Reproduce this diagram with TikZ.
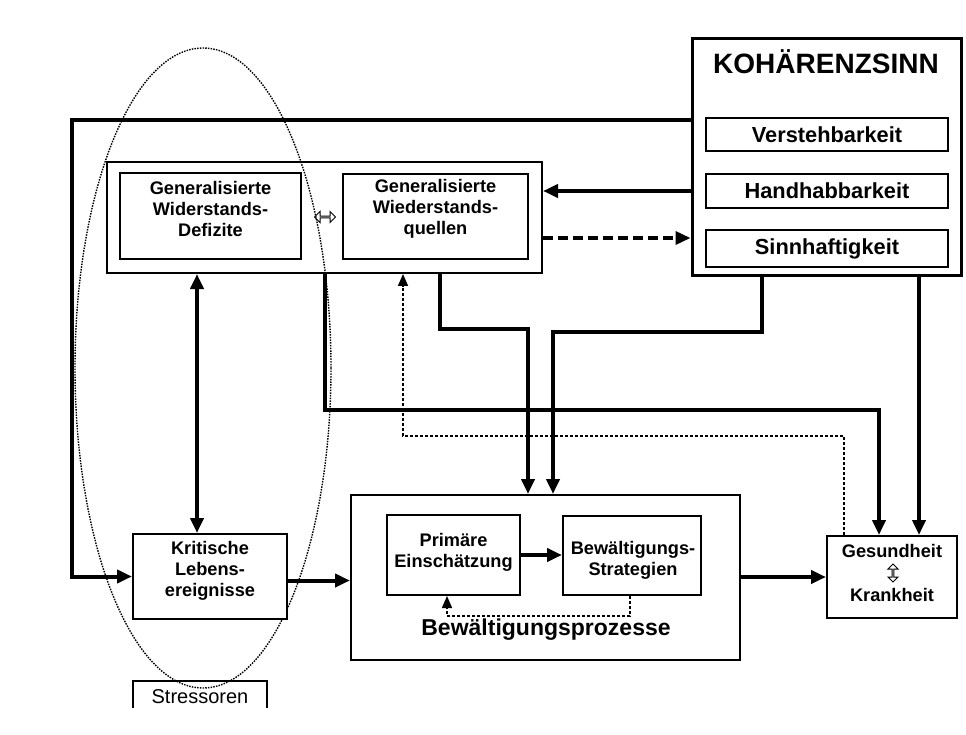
\documentclass[tikz,border=0pt]{standalone}
\usepackage{fontspec}
\setmainfont{Liberation Sans}
\usetikzlibrary{arrows.meta,shapes.arrows}
\begin{document}
\begin{tikzpicture}[x=1pt,y=-1pt,
  box/.style={draw, line width=2pt, rectangle, inner sep=0pt, fill=white},
  txt/.style={font=\bfseries\fontsize{18.2}{21}\selectfont, align=center, inner sep=0pt},
  subtxt/.style={font=\bfseries\fontsize{21.8}{24}\selectfont},
  arr/.style={line width=4pt, -{Triangle[length=15pt,width=13pt]}},
  arrtwo/.style={line width=4pt, {Triangle[length=15pt,width=13pt]}-{Triangle[length=15pt,width=13pt]}},
  dasharr/.style={line width=3.5pt, dash pattern=on 10pt off 5pt, -{Triangle[length=15pt,width=13pt]}},
  dotarr/.style={line width=1.6pt, dash pattern=on 3pt off 2pt, -{Triangle[length=12pt,width=10pt]}},
  hollow/.style={draw, double arrow, line width=1pt, minimum height=21pt, minimum width=11pt, double arrow head extend=2.5pt, inner sep=0pt}
]
\useasboundingbox (0,0) rectangle (966,735);

% Stressor ellipse
\draw[line width=1.4pt, dash pattern=on 1.5pt off 1.2pt] (203,368) ellipse [x radius=128, y radius=320];

% Koh\"arenzsinn
\node[box, line width=3pt, minimum width=269pt, minimum height=237pt] (koh) at (826.5,157.5) {};
\node[font=\bfseries\fontsize{28}{30}\selectfont, inner sep=0pt] (kohtitle) at (826,62) {KOHÄRENZSINN};
\node[box, minimum width=242pt, minimum height=33pt, subtxt] (vers) at (827,134.5) {Verstehbarkeit};
\node[box, minimum width=242pt, minimum height=34pt, subtxt] (hand) at (827,191) {Handhabbarkeit};
\node[box, minimum width=242pt, minimum height=37pt, subtxt] (sinn) at (827,248.5) {Sinnhaftigkeit};

% Generalisierte group
\node[box, minimum width=435pt, minimum height=111pt, fill=none] (grp) at (324.5,217.5) {};
\node[box, minimum width=181pt, minimum height=86pt] (gwd) at (210.5,216) {};
\node[txt] (gwdt) at (210.5,209) {Generalisierte\\Widerstands-\\Defizite};
\node[box, minimum width=185pt, minimum height=85pt] (gwq) at (435.5,216.5) {};
\node[txt] (gwqt) at (435.5,209) {Generalisierte\\Wiederstands-\\quellen};
\node[hollow] (dar) at (325,217) {};

% Kritische Lebensereignisse
\node[box, minimum width=154pt, minimum height=85pt] (krit) at (210,576.5) {};
\node[txt] (kritt) at (210,571) {Kritische\\Lebens-\\ereignisse};

% Bew\"altigungsprozesse
\node[box, minimum width=389pt, minimum height=165pt, fill=none] (bew) at (545.5,577.5) {};
\node[box, minimum width=133pt, minimum height=80pt] (prim) at (453.5,555) {};
\node[txt] (primt) at (453.5,552) {Primäre\\Einschätzung};
\node[box, minimum width=138pt, minimum height=79pt] (strat) at (632,555.5) {};
\node[txt] (stratt) at (633,560) {Bewältigungs-\\Strategien};
\node[font=\bfseries\fontsize{23}{25}\selectfont, inner sep=0pt] (bewt) at (546,630) {Bewältigungsprozesse};

% Gesundheit
\node[box, minimum width=130pt, minimum height=82pt] (ges) at (892,577) {};
\node[txt] (gest) at (892,551) {Gesundheit};
\node[hollow, rotate=90, minimum height=18pt, minimum width=10pt] (gar) at (893,573) {};
\node[txt] (krat) at (892,595) {Krankheit};

% Stressoren
\draw[line width=1.5pt] (133,708) -- (133,681) -- (267,681) -- (267,708);
\node[font=\fontsize{20}{22}\selectfont, inner sep=0pt] (stress) at (200,697) {Stressoren};

% helper coordinates
\coordinate (ctop) at (72,120);
\coordinate (xa) at (197,0);
\coordinate (xb) at (440,329);
\coordinate (xc) at (528,329);
\coordinate (xd) at (762,332);
\coordinate (xe) at (553,332);
\coordinate (xf) at (325,410);
\coordinate (xg) at (879,410);
\coordinate (xh) at (919,0);
\coordinate (xi) at (844,436);
\coordinate (xj) at (403,436);
\coordinate (xk) at (630,616);
\coordinate (xl) at (447,616);

% connectors
\draw[arr] (koh.west |- ctop) -- (ctop) |- (krit.west);
\draw[arr] (koh.west |- hand) -- (grp.east |- hand);
\draw[dasharr] ([yshift=-20.5pt]grp.east) -- ([yshift=-20.5pt]grp.east -| koh.west);
\draw[arrtwo] (grp.south -| xa) -- (krit.north -| xa);
\draw[arr] (grp.south -| xb) -- (xb) -- (xc) -- (bew.north -| xc);
\draw[arr] (koh.south -| xd) -- (xd) -- (xe) -- (bew.north -| xe);
\draw[arr] (grp.south -| xf) -- (xf) -- (xg) -- (ges.north -| xg);
\draw[arr] (koh.south -| xh) -- (ges.north -| xh);
\draw[dotarr] (ges.north -| xi) -- (xi) -- (xj) -- (grp.south -| xj);
\draw[arr] ([yshift=-4pt]krit.east) -- ([yshift=-4pt]krit.east -| bew.west);
\draw[arr] (prim.east) -- (strat.west |- prim.east);
\draw[arr] (bew.east |- ges.west) -- (ges.west);
\draw[dotarr] (strat.south -| xk) -- (xk) -- (xl) -- (prim.south -| xl);
\end{tikzpicture}
\end{document}
